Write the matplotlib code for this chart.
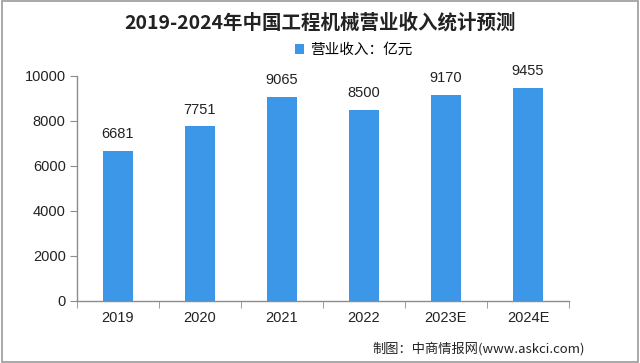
import matplotlib.pyplot as plt
from matplotlib.patches import Rectangle

plt.rcParams['font.family'] = ['Liberation Sans', 'Noto Sans CJK SC', 'DejaVu Sans']

years = ['2019', '2020', '2021', '2022', '2023E', '2024E']
revenue = [6681, 7751, 9065, 8500, 9170, 9455]

bar_color = '#3C97E8'
axis_color = '#8c8c8c'

fig = plt.figure(figsize=(6.4, 3.63), dpi=100)
ax = fig.add_axes([0.120, 0.171, 0.769, 0.620])

x = list(range(len(years)))
bars = ax.bar(x, revenue, width=0.37, color=bar_color, label='营业收入：亿元', zorder=2)
for xi, v in zip(x, revenue):
    ax.annotate(f'{v}', (xi, v), xytext=(0, 7), textcoords='offset points',
                ha='center', va='bottom', fontsize=10.5, color='#222222')

ax.set_xlim(-0.5, len(years) - 0.5)
ax.set_ylim(0, 10000)
ax.set_yticks(range(0, 10001, 2000))
ax.set_xticks(x)
ax.set_xticklabels(years)
ax.set_xticks([i - 0.5 for i in range(len(years) + 1)], minor=True)
ax.tick_params(axis='x', which='major', length=0, pad=7, labelsize=10.5, labelcolor='#222222')
ax.tick_params(axis='x', which='minor', length=5, color=axis_color, direction='out')
ax.tick_params(axis='y', length=5, color=axis_color, labelsize=10.5, labelcolor='#222222', pad=3)

for side in ['top', 'right']:
    ax.spines[side].set_visible(False)
for side in ['left', 'bottom']:
    ax.spines[side].set_color(axis_color)
    ax.spines[side].set_linewidth(1.0)

fig.text(0.5, 0.937, '2019-2024年中国工程机械营业收入统计预测', ha='center', va='center',
         fontsize=14, fontweight='bold', color='#222222',
         family=['Noto Sans CJK SC', 'DejaVu Sans'])

leg = fig.legend(handles=[bars], loc='center', bbox_to_anchor=(0.553, 0.862), frameon=False,
                 handlelength=0.6, handleheight=0.6, handletextpad=0.4,
                 prop={'family': ['Noto Sans CJK SC'], 'size': 10.5})

fig.text(0.914, 0.040, '制图：中商情报网(www.askci.com)', ha='right', va='center',
         fontsize=9.5, color='#222222', family=['Noto Sans CJK SC', 'DejaVu Sans'])

# thin frame around the whole picture
fig.patches.append(Rectangle((0.003, 0.004), 0.994, 0.992, transform=fig.transFigure,
                             fill=False, edgecolor='#9a9a9a', linewidth=1.2))

fig.savefig('out.png', dpi=100)
